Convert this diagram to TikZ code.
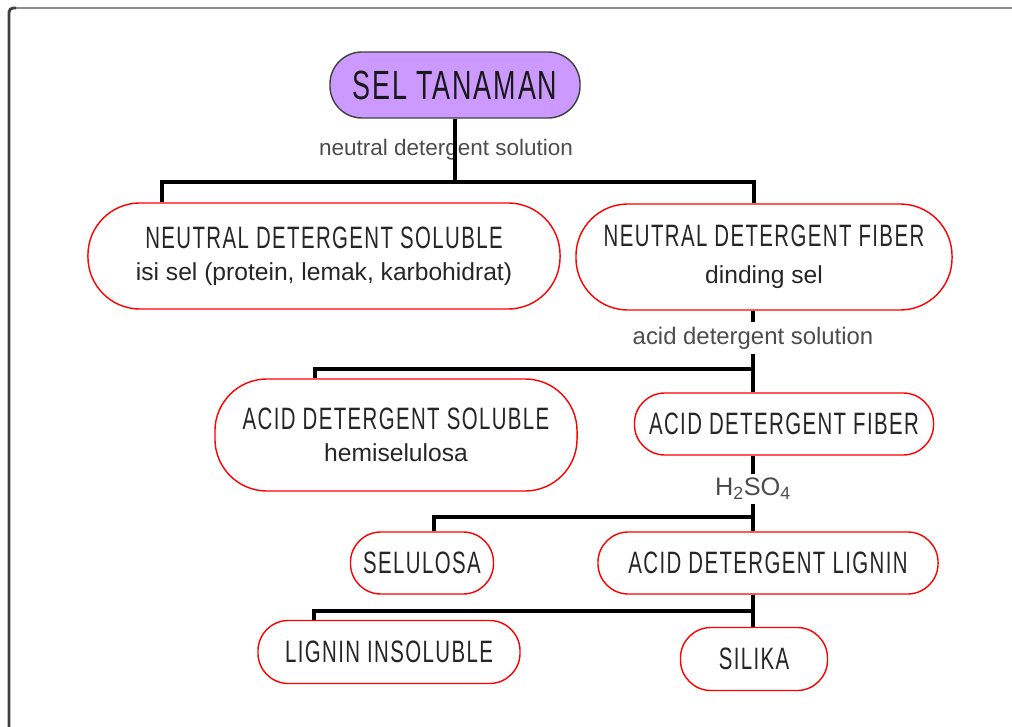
\documentclass[tikz,border=0pt]{standalone}
\usepackage{fontspec}
\setmainfont{Liberation Sans}
\newfontfamily\capsfont[FakeStretch=0.66,LetterSpace=4.5]{Liberation Sans}
\usepackage{xcolor}
\usetikzlibrary{positioning}

\definecolor{lilac}{RGB}{204,153,255}
\newcommand{\subtxt}{\normalfont\fontsize{17.5}{20}\selectfont}

\tikzset{
    selbox/.style={draw=red, line width=1pt, rectangle, rounded corners=0.76cm, fill=white,
        align=center, inner sep=0pt, text=black!85, font=\capsfont\fontsize{22}{30}\selectfont},
    bigbox/.style={selbox, rounded corners=1.3cm},
    conn/.style={line width=2.2pt, black},
    sollabel/.style={inner sep=3pt, text=black!70, font=\fontsize{17}{20}\selectfont}
}

\begin{document}
\begin{tikzpicture}[x=0.025cm, y=-0.025cm]
    \useasboundingbox (0,0) rectangle (1012,727);
    \draw[line width=2pt, black!45] (14,8) -- (1012,8);
    \draw[line width=2pt, black!75, rounded corners=3pt] (9,727) -- (9,8) -- (16,8);

    \node[draw=black!75, line width=1pt, fill=lilac, rectangle, rounded corners=0.8cm, minimum width=6.25cm, minimum height=1.65cm,
        text=black!90, font=\capsfont\fontsize{29}{34}\selectfont] (tanaman) at (455,85) {SEL TANAMAN};
    \node[bigbox, minimum width=11.8cm, minimum height=2.65cm] (nds) at (324,256)
        {NEUTRAL DETERGENT SOLUBLE\\[-7pt]\subtxt isi sel (protein, lemak, karbohidrat)};
    \node[bigbox, minimum width=9.4cm, minimum height=2.65cm] (ndf) at (764,257)
        {NEUTRAL DETERGENT FIBER\\[-4pt]\subtxt dinding sel};
    \node[bigbox, minimum width=9.05cm, minimum height=2.8cm] (ads) at (396,435)
        {ACID DETERGENT SOLUBLE\\[-7pt]\subtxt hemiselulosa};
    \node[selbox, minimum width=7.475cm, minimum height=1.55cm] (adf) at (784,424) {ACID DETERGENT FIBER};
    \node[selbox, minimum width=3.575cm, minimum height=1.55cm] (selulosa) at (422,563) {SELULOSA};
    \node[selbox, minimum width=8.5cm, minimum height=1.55cm] (adl) at (768,563) {ACID DETERGENT LIGNIN};
    \node[selbox, minimum width=6.55cm, minimum height=1.575cm] (lignin) at (389,652) {LIGNIN INSOLUBLE};
    \node[selbox, minimum width=3.675cm, minimum height=1.575cm] (silika) at (754,659) {SILIKA};

    \node[sollabel, font=\fontsize{16}{18}\selectfont] (neutsol) at (446,150) {neutral detergent solution};
    \node[sollabel] (acidsol) at (753,338) {acid detergent solution};
    \node[sollabel, font=\fontsize{18}{20}\selectfont] (asam) at (753,489) {H\textsubscript{2}SO\textsubscript{4}};

    \coordinate (bar1l) at (162,182);
    \coordinate (bar1r) at (754,182);
    \coordinate (bar2l) at (315,369);
    \coordinate (bar2r) at (753,369);
    \coordinate (bar3l) at (434,517);
    \coordinate (bar3r) at (753,517);
    \coordinate (bar4l) at (314,611);
    \coordinate (bar4r) at (753,611);

    \draw[conn] (tanaman.south) -- (tanaman.south |- bar1l);
    \draw[conn] (bar1l |- nds.north) -- (bar1l) -- (bar1r) -- (bar1r |- ndf.north);

    \draw[conn] (bar2r |- ndf.south) -- (acidsol.north -| bar2r);
    \draw[conn] (acidsol.south -| bar2r) -- (bar2r) -- (bar2r |- adf.north);
    \draw[conn] (bar2l |- ads.north) -- (bar2l) -- (bar2r);

    \draw[conn] (bar3r |- adf.south) -- (asam.north -| bar3r);
    \draw[conn] (asam.south -| bar3r) -- (bar3r) -- (bar3r |- adl.north);
    \draw[conn] (bar3l |- selulosa.north) -- (bar3l) -- (bar3r);

    \draw[conn] (bar4r |- adl.south) -- (bar4r) -- (bar4r |- silika.north);
    \draw[conn] (bar4l |- lignin.north) -- (bar4l) -- (bar4r);
\end{tikzpicture}
\end{document}
